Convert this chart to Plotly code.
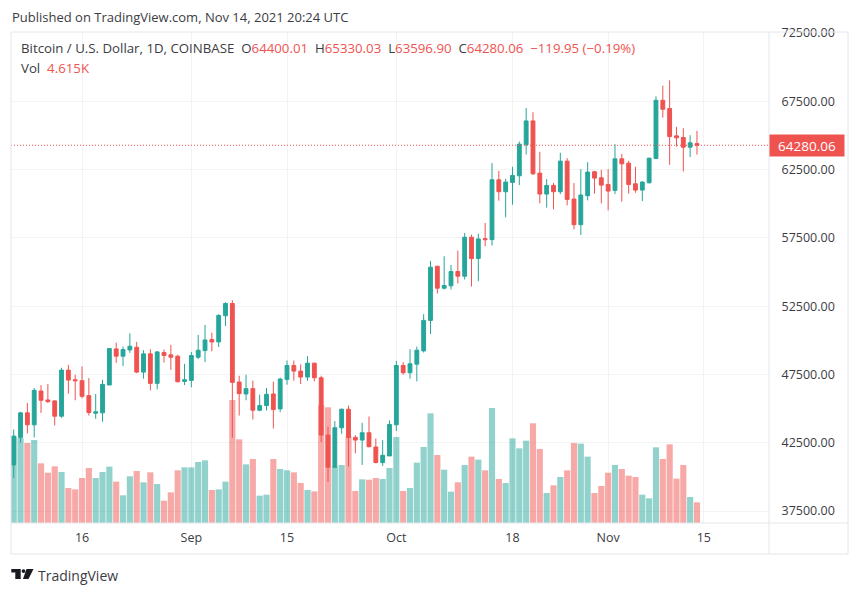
import pandas as pd
import plotly.graph_objects as go

# daily candles, Aug 6 - Nov 14 2021
dates = pd.date_range('2021-08-06', '2021-11-14', freq='D')

opens = [40875, 42889, 44685, 43811, 46287, 45632, 45560, 44442, 47816, 47110,
         47040, 45947, 44661, 44685, 46724, 49369, 48835, 49296, 49490, 47670,
         49005, 46845, 49102, 48932, 48835, 46990, 47064, 48762, 49248, 50049,
         49879, 51796, 52694, 46942, 46069, 46457, 44879, 45219, 46068, 44976,
         47136, 48156, 47743, 47306, 48325, 47258, 43059, 40704, 43593, 44952,
         42889, 42695, 43229, 42185, 41045, 41530, 43811, 48156, 47622, 48253,
         49224, 51456, 55422, 53815, 53986, 55033, 54692, 57541, 55982, 57443,
         57370, 61753, 60877, 61559, 62046, 64310, 66063, 62240, 60706, 61340,
         60877, 63117, 60341, 58466, 60584, 62338, 61899, 61413, 60974, 63287,
         62971, 61461, 60998, 61534, 63312, 67573, 66964, 64968, 64846, 64140,
         64400.01]
highs = [43472, 44760, 45413, 46505, 46724, 46800, 45600, 47986, 48204, 47476,
         48083, 47233, 46068, 47112, 49418, 49830, 49540, 50510, 49879, 49272,
         49345, 49200, 49321, 49660, 48932, 48277, 49150, 50388, 51117, 50558,
         51917, 52791, 52937, 47403, 47476, 47040, 46020, 46505, 46966, 47257,
         48520, 48520, 48228, 48835, 48350, 47403, 43666, 44078, 45000, 45219,
         43059, 43957, 44418, 42816, 42695, 44127, 48495, 48398, 49345, 49539,
         51917, 55812, 55422, 56153, 55520, 56567, 57857, 57736, 57809, 58588,
         62971, 62411, 61826, 62703, 64554, 67013, 66696, 63799, 61802, 61510,
         63726, 63336, 61510, 62533, 63044, 62411, 62484, 62533, 64359, 63653,
         63141, 62703, 61656, 63360, 67865, 68644, 69034, 65625, 65528, 65016,
         65330.03]
lows = [39904, 42500, 43180, 42889, 44685, 45413, 43763, 44321, 46093, 45607,
        45753, 44491, 44248, 44030, 46720, 48350, 48107, 49078, 47597, 47185,
        46335, 46408, 48374, 47840, 46918, 46724, 46554, 48617, 48398, 49200,
        49515, 51044, 42865, 44491, 45607, 44200, 44806, 44855, 43544, 44733,
        46748, 47040, 46796, 47040, 46990, 42549, 39637, 40632, 43156, 40753,
        41724, 40875, 42160, 40996, 40801, 41530, 43350, 47476, 47185, 46990,
        49102, 50460, 53426, 53718, 53718, 54156, 54448, 53937, 54327, 56883,
        56932, 60220, 59002, 59927, 61364, 63604, 62094, 60024, 59708, 59586,
        60706, 59878, 58125, 57711, 60244, 60731, 60024, 59513, 60706, 60146,
        60731, 60804, 60195, 61486, 63263, 66307, 62849, 64188, 62362, 63409,
        63596.90]
closes = [42986, 44685, 43811, 46335, 45607, 45510, 44442, 47816, 47088, 47040,
          45899, 44710, 44758, 46772, 49393, 48835, 49321, 49563, 47670, 49005,
          46845, 49150, 48884, 48762, 46967, 47112, 48884, 49272, 50025, 49879,
          51820, 52694, 46918, 46093, 46457, 44879, 45219, 46044, 44928, 47161,
          48156, 47743, 47306, 48325, 47258, 43059, 40704, 43593, 44952, 42889,
          42695, 43229, 42209, 41045, 41579, 43836, 48156, 47622, 48277, 49272,
          51456, 55349, 53815, 54010, 55033, 54692, 57541, 55982, 57419, 57370,
          61753, 60877, 61583, 62070, 64359, 66063, 62192, 60706, 61340, 60877,
          63117, 60317, 58466, 60633, 62313, 61875, 61364, 60925, 63287, 62922,
          61413, 60998, 61583, 63336, 67573, 66916, 64919, 64821, 64140, 64456,
          64280.06]
volumes = [19270, 18970, 17860, 18530, 13320, 11230, 12650, 11380, 7810, 7510,
           10040, 12280, 10040, 11380, 12570, 9230, 6180, 10420, 11610, 9080,
           11310, 8700, 4980, 6840, 11760, 12420, 12420, 13620, 13990, 7370,
           7510, 9230, 27450, 18670, 13090, 14280, 6100, 6320, 14280, 12050,
           11760, 11310, 8930, 7370, 7070, 26260, 25820, 12570, 12950, 19270,
           7140, 9750, 9670, 10040, 9820, 12280, 19200, 7140, 7810, 13470,
           16960, 24480, 15180, 11900, 6990, 9080, 12950, 14810, 14140, 11760,
           25670, 9820, 8930, 18900, 16670, 18380, 22250, 16520, 6700, 8410,
           10270, 11760, 17860, 17710, 14810, 6700, 8260, 11230, 12950, 12050,
           10560, 10270, 6320, 5510, 16890, 14280, 17560, 9900, 12950, 5800,
           4615]

price_ticks = [37500, 42500, 47500, 52500, 57500, 62500, 67500, 72500]
date_ticks = ['2021-08-16', '2021-09-01', '2021-09-15', '2021-10-01', '2021-10-18', '2021-11-01', '2021-11-15']
date_labels = ['16', 'Sep', '15', 'Oct', '18', 'Nov', '15']

UP = '#26a69a'
DOWN = '#ef5350'
GRID = '#f3f3f6'
BORDER = '#e6e6ec'
TEXT = '#3c3c44'
FONT = 'Open Sans'

bar_colors = ['rgba(38,166,154,0.5)' if c >= o else 'rgba(239,83,80,0.5)' for o, c in zip(opens, closes)]

fig = go.Figure()
fig.add_trace(go.Bar(x=dates, y=volumes, marker=dict(color=bar_colors, line_width=0), yaxis='y'))
fig.add_trace(go.Candlestick(
    x=dates, open=opens, high=highs, low=lows, close=closes, yaxis='y2',
    increasing=dict(line=dict(color=UP, width=1), fillcolor=UP),
    decreasing=dict(line=dict(color=DOWN, width=1), fillcolor=DOWN),
    whiskerwidth=0,
))

# last price line and its tag on the scale
fig.add_shape(type='line', xref='paper', x0=0, x1=1, yref='y2', y0=closes[-1], y1=closes[-1],
              line=dict(color=DOWN, width=1, dash='1px,2px'))
fig.add_annotation(xref='paper', x=1, xanchor='left', yref='y2', y=closes[-1], text=f'{closes[-1]:.2f}',
                   showarrow=False, bgcolor=DOWN, width=74, height=21, borderpad=0, align='center',
                   font=dict(family=FONT, size=13.5, color='white'))


# page pixels to paper coords (the page sits 8px in, so pane is x 11-769, y 32-523)
def px(x):
    return (x - 11) / 758


def py(y):
    return (523 - y) / 491


# frame around the pane and the scales
for x0, y0, x1, y1 in [(11, 32, 848, 32), (11, 523, 848, 523), (11, 554, 848, 554),
                       (11, 32, 11, 554), (769, 32, 769, 554), (848, 32, 848, 554)]:
    fig.add_shape(type='line', xref='paper', yref='paper', x0=px(x0), y0=py(y0), x1=px(x1), y1=py(y1),
                  line=dict(color=BORDER, width=1))

# TradingView logo
logo_polys = [
    [(11.3, 569), (20.7, 569), (20.7, 579), (15.3, 579), (15.3, 572.5), (11.3, 572.5)],
    [(26.5, 569), (33.5, 569), (28.5, 579), (23, 579)],
]
for poly in logo_polys:
    path = 'M ' + ' L '.join(f'{px(x):.5f} {py(y):.5f}' for x, y in poly) + ' Z'
    fig.add_shape(type='path', xref='paper', yref='paper', path=path, fillcolor='#1a1a22', line_width=0)
fig.add_shape(type='circle', xref='paper', yref='paper', x0=px(21.6), x1=px(25.4), y0=py(573), y1=py(569.2),
              fillcolor='#1a1a22', line_width=0)

red = f'<span style="color:{DOWN}">'
gap = '\u00a0\u00a0'
header = (f'Bitcoin / U.S. Dollar, 1D, COINBASE{gap}O{red}64400.01</span>{gap}H{red}65330.03</span>{gap}'
          f'L{red}63596.90</span>{gap}C{red}64280.06</span>{gap}{red}−119.95 (−0.19%)</span>')
texts = [
    (px(10), py(17), 'Published on TradingView.com, Nov 14, 2021 20:24 UTC', 13),
    (px(19), py(48), header, 13.25),
    (px(19), py(68), f'Vol{gap}{red}4.615K</span>', 13.25),
    (px(36), py(575), 'TradingView', 14),
]
for x, y, t, size in texts:
    fig.add_annotation(xref='paper', yref='paper', x=x, y=y, xanchor='left', yanchor='middle', text=t,
                       showarrow=False, font=dict(family=FONT, size=size, color=TEXT))

fig.update_layout(
    width=852, height=587,
    margin=dict(l=3, r=91, t=24, b=72),
    paper_bgcolor='white', plot_bgcolor='white',
    showlegend=False, boxgap=0.2, bargap=0.1,
    font=dict(family=FONT, size=12.5, color=TEXT),
    xaxis=dict(type='date', range=['2021-08-05 14:30', '2021-11-24 13:00'], rangeslider_visible=False,
               tickvals=date_ticks, ticktext=date_labels, tickangle=0, showgrid=True, gridcolor=GRID,
               ticks='outside', ticklen=3, tickcolor='rgba(0,0,0,0)'),
    yaxis=dict(range=[0, 109600], visible=False),
    yaxis2=dict(range=[36621, 72573], overlaying='y', side='right', tickvals=price_ticks,
                ticktext=[f'{v:.2f}' for v in price_ticks], showgrid=True, gridcolor=GRID,
                zeroline=False, ticks='outside', ticklen=9, tickcolor='rgba(0,0,0,0)'),
)

fig.write_html("out.html")
